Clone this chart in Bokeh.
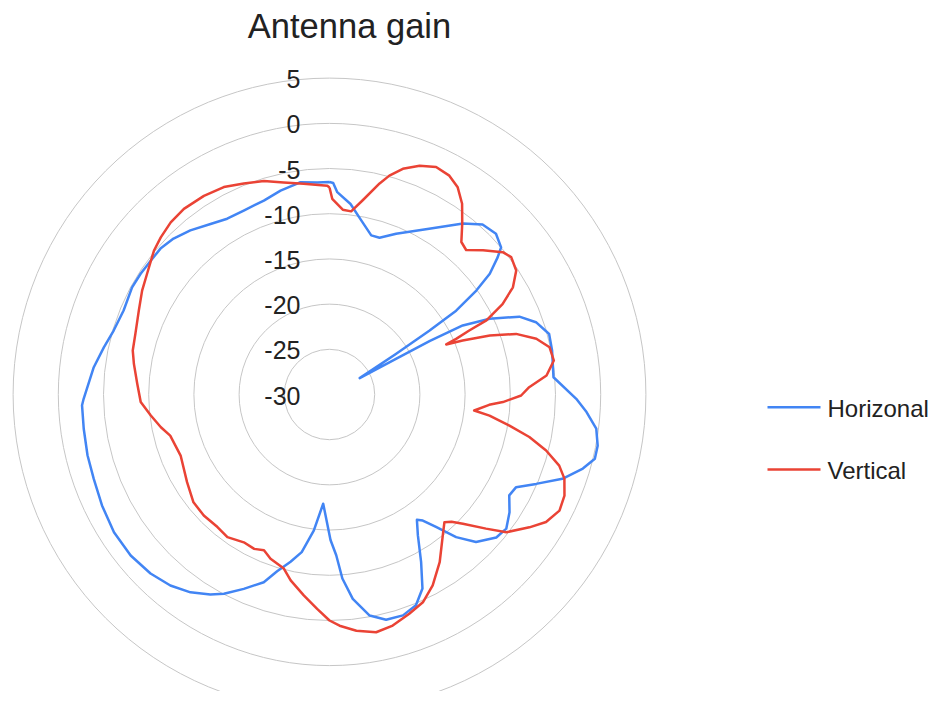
import numpy as np
from bokeh.plotting import figure
from bokeh.models import Range1d
from bokeh.core.properties import value
from bokeh.embed import file_html
from bokeh.resources import INLINE

# ---------------- data ----------------
chart_title = "Antenna gain"
series_names = ["Horizonal", "Vertical"]
radial_min = -30
radial_ticks = [-30, -25, -20, -15, -10, -5, 0, 5]

# angle in degrees, clockwise from top ; gain in dB
horiz_angle = [0, 1, 2.2, 6.3, 10, 14.7, 17.7, 22.5, 31, 38, 42, 46, 49.4, 50.8, 53,
               54.7, 56.5, 57.4, 58.6, 61.5, 61.8, 61.9, 62.6, 64.7, 67.7, 70.7, 74.6,
               78.8, 85.6, 91, 93.9, 97.3, 100.8, 103.6, 106.3, 109.9, 113.4, 116.4,
               119.3, 123.2, 127.2, 130.6, 135.2, 138.4, 141.2, 143.5, 145.1, 147.9,
               151.3, 154.4, 157.7, 161.6, 165.9, 169.7, 173.5, 176, 177.6, 179.6,
               183.3, 186.6, 190, 193.1, 196.5, 199.3, 203.8, 207.9, 210.8, 215.1,
               219.8, 225, 231, 237.4, 244, 250.3, 255.9, 262, 267.5, 269, 276.6,
               281.8, 286.5, 292.2, 298.5, 302.6, 306.8, 310.8, 315, 319.7, 325.1,
               329.8, 335, 341.3, 346.5, 351.3, 352.2, 356.7]
horiz_gain = [-6.5, -6.6, -7.6, -8.8, -10.3, -11.8, -11.8, -10.75, -8.6, -6.0, -4.7, -4.4,
              -5.0, -6.0, -7.8, -10.1, -13.2, -16.9, -21.4, -26.2, -21.6, -17.4, -13.4,
              -10.4, -7.3, -5.8, -4.8, -4.9, -5.15, -2.7, -1.5, -0.25, 0.2, 0.2, -0.8,
              -2.6, -5.1, -6.95, -7.2, -6.2, -5.45, -5.7, -7.0, -8.9, -11.2, -12.65,
              -13.1, -11.6, -8.9, -6.2, -4.8, -4.25, -4.3, -5.15, -7.25, -9.6, -12.2,
              -13.9, -17.9, -14.85, -12.3, -11.0, -9.6, -8.0, -6.5, -5.05, -4.25,
              -3.25, -2.5, -2.0, -1.7, -1.7, -2.0, -2.3, -2.4, -2.55, -2.6, -2.8,
              -3.75, -4.5, -5.1, -5.4, -5.15, -5.2, -5.3, -5.3, -5.6, -6.2, -7.0,
              -7.5, -7.55, -7.35, -6.8, -6.4, -6.3, -6.5]

vert_angle = [0, 0.8, 4.1, 6.75, 9.7, 13.35, 15.3, 18, 21.5, 25.1, 28.7, 31.75, 34.8,
              37.9, 40.85, 43.4, 46.8, 50.6, 52.9, 56.4, 59.7, 62.4, 64.7, 65.4, 66.3,
              66.8, 67.9, 69.8, 72, 74.9, 77.9, 81.4, 85, 87.9, 90.3, 92.5, 93.7, 96.3,
              97.5, 99.8, 102, 104.5, 107.2, 109.7, 113.3, 116.8, 120.5, 123.6, 127.9,
              130.6, 134.1, 136.2, 138, 141.2, 146.7, 151.6, 155.8, 160, 164.7, 168.9,
              173.5, 177.5, 180, 183.3, 187.3, 191.8, 194.7, 199.75, 202.8, 206, 210.1,
              215.6, 220.2, 226.1, 231.6, 238.4, 247.7, 255.5, 259, 263.3, 267.7,
              273.2, 278.9, 282.6, 287.4, 293.8, 299, 303.5, 309.3, 312.95, 317.3,
              321.9, 327.7, 333, 337.9, 342.9, 347.8, 353, 359.4]
vert_gain = [-7.1, -8.35, -9.5, -9.6, -8.2, -6.0, -4.9, -3.75, -2.8, -2.2, -2.4, -3.05,
             -4.3, -6.1, -7.7, -8.0, -6.7, -5.2, -4.8, -5.2, -6.5, -8.4, -10.8, -13.0,
             -14.7, -15.95, -14.1, -11.1, -8.3, -6.3, -5.1, -4.9, -5.9, -7.9, -8.8,
             -10.8, -12.3, -13.9, -12.15, -9.8, -7.4, -5.25, -3.4, -2.4, -1.7, -1.5,
             -2.2, -3.45, -5.2, -7.2, -9.45, -10.5, -11.0, -10.0, -7.8, -6.0, -4.8,
             -4.2, -3.5, -3.2, -3.7, -4.4, -5.0, -6.25, -7.6, -9.0, -10.1, -10.7,
             -11.3, -11.0, -11.1, -10.6, -10.8, -10.7, -10.8, -11.5, -12.2, -11.8,
             -11.0, -10.1, -9.1, -8.7, -8.1, -7.7, -7.5, -6.95, -6.3, -5.8, -4.9,
             -4.5, -4.1, -3.9, -4.0, -4.25, -4.8, -5.3, -6.0, -6.5, -6.9]

# ---------------- layout ----------------
W, H = 935, 691
SCALE = 9.04          # pixels per dB
CX, CY = 329, 394     # polar centre in canvas pixels


def px_x(px):
    return (px - CX) / SCALE


def px_y(py):
    return (CY - py) / SCALE


p = figure(width=W, height=H,
           x_range=Range1d(px_x(0), px_x(W)), y_range=Range1d(px_y(H), px_y(0)),
           x_axis_type=None, y_axis_type=None,
           output_backend="svg", toolbar_location=None, min_border=0)
p.outline_line_color = None
p.background_fill_color = "white"
p.border_fill_color = "white"

FONT = value("Liberation Sans")

# concentric grid circles
grid_r = [t - radial_min for t in radial_ticks if t > radial_min]
p.circle(x=[0] * len(grid_r), y=[0] * len(grid_r), radius=grid_r,
         fill_color=None, line_color="#c6c6c6", line_width=1)


def polar_xy(angles, gains):
    a = np.radians(np.array(angles + [angles[0]], dtype=float))
    r = np.array(gains + [gains[0]], dtype=float) - radial_min
    return r * np.sin(a), r * np.cos(a)


colors = ["#4285F4", "#EA4335"]
hx, hy = polar_xy(horiz_angle, horiz_gain)
vx, vy = polar_xy(vert_angle, vert_gain)
p.line(hx, hy, line_color=colors[0], line_width=2.5, line_join="round")
p.line(vx, vy, line_color=colors[1], line_width=2.5, line_join="round")

# radial tick labels
p.text(x=[px_x(300)] * len(radial_ticks),
       y=[t - radial_min - 1.0 / SCALE for t in radial_ticks],
       text=[str(t) for t in radial_ticks],
       text_align="right", text_baseline="middle",
       text_font=FONT, text_font_size="25px", text_color="#222222")

# title
p.text(x=[px_x(349)], y=[px_y(25)], text=[chart_title],
       text_align="center", text_baseline="middle",
       text_font=FONT, text_font_size="34.5px", text_color="#222222")

# legend
leg_line_y = [px_y(406.7), px_y(469)]
leg_text_y = [px_y(407.5), px_y(469.7)]
for i, name in enumerate(series_names):
    p.line([px_x(767), px_x(820)], [leg_line_y[i]] * 2,
           line_color=colors[i], line_width=2.5)
    p.text(x=[px_x(827)], y=[leg_text_y[i]], text=[name],
           text_align="left", text_baseline="middle",
           text_font=FONT, text_font_size="24px", text_color="#222222")

open("out.html", "w").write(file_html(p, INLINE))
